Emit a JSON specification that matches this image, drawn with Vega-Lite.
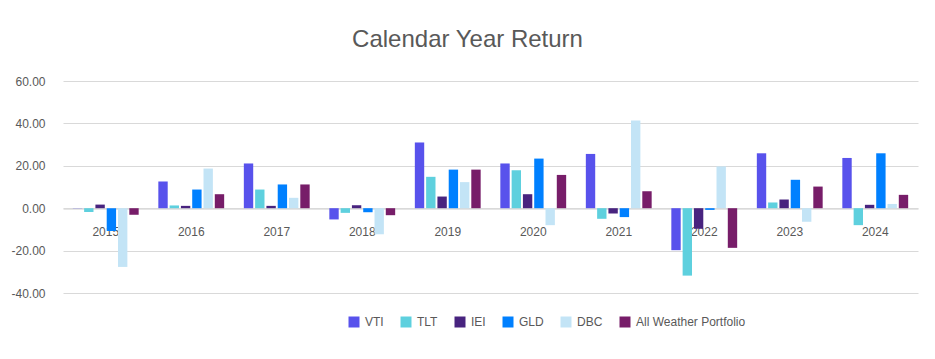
{
  "$schema": "https://vega.github.io/schema/vega-lite/v6.json",
  "autosize": {"type": "none"},
  "width": 855,
  "height": 212,
  "padding": {"left": 63, "top": 81, "right": 17, "bottom": 66},
  "background": "white",
  "title": {
    "text": "Calendar Year Return",
    "anchor": "middle",
    "dx": -23,
    "offset": 4,
    "baseline": "alphabetic",
    "font": "Liberation Sans",
    "fontSize": 24,
    "fontWeight": "normal",
    "color": "#595959"
  },
  "config": {
    "view": {"stroke": null},
    "font": "Liberation Sans"
  },
  "data": {
    "values": [
      {"year": "2015", "ticker": "VTI", "value": 0.1},
      {"year": "2015", "ticker": "TLT", "value": -1.8},
      {"year": "2015", "ticker": "IEI", "value": 1.7},
      {"year": "2015", "ticker": "GLD", "value": -10.8},
      {"year": "2015", "ticker": "DBC", "value": -27.7},
      {"year": "2015", "ticker": "All Weather Portfolio", "value": -3.1},
      {"year": "2016", "ticker": "VTI", "value": 12.6},
      {"year": "2016", "ticker": "TLT", "value": 1.3},
      {"year": "2016", "ticker": "IEI", "value": 1.1},
      {"year": "2016", "ticker": "GLD", "value": 8.8},
      {"year": "2016", "ticker": "DBC", "value": 18.7},
      {"year": "2016", "ticker": "All Weather Portfolio", "value": 6.6},
      {"year": "2017", "ticker": "VTI", "value": 21.1},
      {"year": "2017", "ticker": "TLT", "value": 8.8},
      {"year": "2017", "ticker": "IEI", "value": 1.1},
      {"year": "2017", "ticker": "GLD", "value": 11.2},
      {"year": "2017", "ticker": "DBC", "value": 4.9},
      {"year": "2017", "ticker": "All Weather Portfolio", "value": 11.2},
      {"year": "2018", "ticker": "VTI", "value": -5.3},
      {"year": "2018", "ticker": "TLT", "value": -2.2},
      {"year": "2018", "ticker": "IEI", "value": 1.4},
      {"year": "2018", "ticker": "GLD", "value": -1.9},
      {"year": "2018", "ticker": "DBC", "value": -12.3},
      {"year": "2018", "ticker": "All Weather Portfolio", "value": -3.3},
      {"year": "2019", "ticker": "VTI", "value": 31.0},
      {"year": "2019", "ticker": "TLT", "value": 14.8},
      {"year": "2019", "ticker": "IEI", "value": 5.5},
      {"year": "2019", "ticker": "GLD", "value": 18.2},
      {"year": "2019", "ticker": "DBC", "value": 12.3},
      {"year": "2019", "ticker": "All Weather Portfolio", "value": 18.2},
      {"year": "2020", "ticker": "VTI", "value": 21.1},
      {"year": "2020", "ticker": "TLT", "value": 17.9},
      {"year": "2020", "ticker": "IEI", "value": 6.6},
      {"year": "2020", "ticker": "GLD", "value": 23.4},
      {"year": "2020", "ticker": "DBC", "value": -8.0},
      {"year": "2020", "ticker": "All Weather Portfolio", "value": 15.7},
      {"year": "2021", "ticker": "VTI", "value": 25.6},
      {"year": "2021", "ticker": "TLT", "value": -5.0},
      {"year": "2021", "ticker": "IEI", "value": -2.5},
      {"year": "2021", "ticker": "GLD", "value": -4.2},
      {"year": "2021", "ticker": "DBC", "value": 41.4},
      {"year": "2021", "ticker": "All Weather Portfolio", "value": 8.0},
      {"year": "2022", "ticker": "VTI", "value": -19.8},
      {"year": "2022", "ticker": "TLT", "value": -31.8},
      {"year": "2022", "ticker": "IEI", "value": -9.7},
      {"year": "2022", "ticker": "GLD", "value": -0.8},
      {"year": "2022", "ticker": "DBC", "value": 19.7},
      {"year": "2022", "ticker": "All Weather Portfolio", "value": -18.7},
      {"year": "2023", "ticker": "VTI", "value": 25.9},
      {"year": "2023", "ticker": "TLT", "value": 2.7},
      {"year": "2023", "ticker": "IEI", "value": 4.1},
      {"year": "2023", "ticker": "GLD", "value": 13.4},
      {"year": "2023", "ticker": "DBC", "value": -6.4},
      {"year": "2023", "ticker": "All Weather Portfolio", "value": 10.2},
      {"year": "2024", "ticker": "VTI", "value": 23.7},
      {"year": "2024", "ticker": "TLT", "value": -8.0},
      {"year": "2024", "ticker": "IEI", "value": 1.6},
      {"year": "2024", "ticker": "GLD", "value": 25.9},
      {"year": "2024", "ticker": "DBC", "value": 2.0},
      {"year": "2024", "ticker": "All Weather Portfolio", "value": 6.3}
    ]
  },
  "mark": {"type": "bar"},
  "encoding": {
    "x": {
      "field": "year",
      "type": "nominal",
      "scale": {"paddingInner": 0.23, "paddingOuter": 0.115},
      "axis": {
        "title": null,
        "labelAngle": 0,
        "labelFontSize": 12,
        "labelColor": "#595959",
        "labelFont": "Liberation Sans",
        "labelPadding": 18,
        "ticks": false,
        "domainColor": "#D9D9D9",
        "offset": -84.3,
        "zindex": 0
      }
    },
    "xOffset": {
      "field": "ticker",
      "type": "nominal",
      "sort": ["VTI", "TLT", "IEI", "GLD", "DBC", "All Weather Portfolio"],
      "scale": {"paddingInner": 0.17, "paddingOuter": 0}
    },
    "y": {
      "field": "value",
      "type": "quantitative",
      "scale": {"domain": [-40, 60], "nice": false, "zero": true},
      "axis": {
        "title": null,
        "values": [-40, -20, 0, 20, 40, 60],
        "labelExpr": "replace(format(datum.value, '.2f'), '\u2212', '-')",
        "labelFontSize": 12,
        "labelColor": "#595959",
        "labelFont": "Liberation Sans",
        "labelPadding": 18,
        "ticks": false,
        "domain": false,
        "gridColor": "#D9D9D9",
        "gridWidth": 1
      }
    },
    "color": {
      "field": "ticker",
      "type": "nominal",
      "scale": {
        "domain": ["VTI", "TLT", "IEI", "GLD", "DBC", "All Weather Portfolio"],
        "range": ["#5852EC", "#5ED0DE", "#48237F", "#0080FF", "#C3E4F6", "#771D69"]
      },
      "legend": {
        "title": null,
        "orient": "none",
        "direction": "horizontal",
        "legendX": 285,
        "legendY": 235,
        "symbolType": "square",
        "symbolSize": 121,
        "symbolStrokeWidth": 0,
        "labelFontSize": 12,
        "labelColor": "#595959",
        "labelFont": "Liberation Sans",
        "labelOffset": 5,
        "columnPadding": 16,
        "padding": 0
      }
    }
  }
}
